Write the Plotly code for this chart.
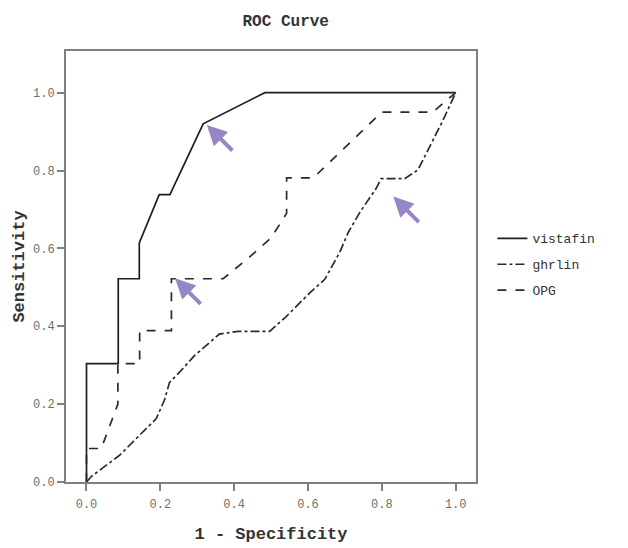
import plotly.graph_objects as go

# ---- data ----
vistafin_x = [0.0, 0.0, 0.086, 0.086, 0.143, 0.143, 0.197, 0.226, 0.316, 0.483, 1.0]
vistafin_y = [0.0, 0.304, 0.304, 0.522, 0.522, 0.614, 0.738, 0.738, 0.920, 1.0, 1.0]

ghrlin_x = [0.0, 0.013, 0.09, 0.125, 0.189, 0.211, 0.225, 0.252, 0.293, 0.36, 0.41, 0.496,
            0.541, 0.604, 0.645, 0.686, 0.709, 0.74, 0.785, 0.798, 0.862, 0.898, 0.938, 0.966, 1.0]
ghrlin_y = [0.0, 0.014, 0.069, 0.103, 0.163, 0.21, 0.256, 0.282, 0.325, 0.38, 0.387, 0.387,
            0.425, 0.485, 0.52, 0.59, 0.641, 0.692, 0.755, 0.779, 0.779, 0.802, 0.879, 0.93, 1.0]

opg_x = [0.0, 0.0, 0.04, 0.085, 0.085, 0.144, 0.144, 0.23, 0.23, 0.37, 0.442, 0.5, 0.542,
         0.542, 0.614, 0.8, 0.938, 1.0]
opg_y = [0.0, 0.086, 0.086, 0.2, 0.304, 0.304, 0.389, 0.389, 0.522, 0.522, 0.578, 0.627, 0.69,
         0.781, 0.781, 0.95, 0.95, 1.0]

tick_vals = [0.0, 0.2, 0.4, 0.6, 0.8, 1.0]
tick_text = ["0.0", "0.2", "0.4", "0.6", "0.8", "1.0"]

# arrow tips (data coords)
arrow_x = [0.326, 0.24, 0.831]
arrow_y = [0.917, 0.523, 0.733]

FONT = "Liberation Mono, Courier New, monospace"

fig = go.Figure()
fig.add_trace(go.Scatter(x=vistafin_x, y=vistafin_y, mode="lines", name="vistafin",
                         legendgroup="a", line=dict(color="#1e1e1e", width=1.7)))
fig.add_trace(go.Scatter(x=ghrlin_x, y=ghrlin_y, mode="lines", name="ghrlin",
                         legendgroup="b", line=dict(color="#2a2a2a", width=1.7, dash="dashdot")))
fig.add_trace(go.Scatter(x=opg_x, y=opg_y, mode="lines", name="OPG",
                         legendgroup="c", line=dict(color="#2a2a2a", width=1.7, dash="dash")))

for ax_, ay_ in zip(arrow_x, arrow_y):
    fig.add_annotation(x=ax_, y=ay_, xref="x", yref="y", ax=27, ay=27, text="",
                       showarrow=True, arrowhead=2, arrowsize=1.0, arrowwidth=4,
                       arrowcolor="rgba(125,105,185,0.8)")

fig.update_layout(
    width=628, height=548,
    margin=dict(l=66, r=152, t=51, b=66),
    paper_bgcolor="white", plot_bgcolor="white",
    font=dict(family=FONT, color="#333333"),
    title=dict(text="<b>ROC Curve</b>", x=0.455, xanchor="center", y=0.963, yanchor="middle",
               font=dict(family=FONT, size=16, color="#333333")),
    showlegend=True,
    legend=dict(x=1.04, y=0.6, xanchor="left", yanchor="top", font=dict(family=FONT, size=13, color="#333333"),
                tracegroupgap=6, itemwidth=30, bgcolor="rgba(0,0,0,0)"),
    xaxis=dict(range=[-0.0555, 1.055], tickvals=tick_vals, ticktext=tick_text,
               showgrid=False, zeroline=False, showline=True, mirror=True, automargin=False,
               linecolor="#808080", linewidth=2, ticks="outside", ticklen=7, tickwidth=1.5,
               tickcolor="#808080", ticklabelstandoff=3,
               tickfont=dict(family=FONT, size=12, color="#707070"),
               title=dict(text="<b>1 - Specificity</b>", font=dict(family=FONT, size=17, color="#333333"),
                          standoff=16)),
    yaxis=dict(range=[0, 1.107], tickvals=tick_vals, ticktext=tick_text,
               showgrid=False, zeroline=False, showline=True, mirror=True, automargin=False,
               linecolor="#808080", linewidth=2, ticks="outside", ticklen=7, tickwidth=1.5,
               tickcolor="#808080", tickfont=dict(family=FONT, size=12, color="#707070"),
               title=dict(text="<b>Sensitivity</b>", font=dict(family=FONT, size=17, color="#333333"),
                          standoff=4)),
)

fig.write_html("out.html", config={"displayModeBar": False},
               post_script="document.body.style.margin='0';document.body.style.overflow='hidden';")
